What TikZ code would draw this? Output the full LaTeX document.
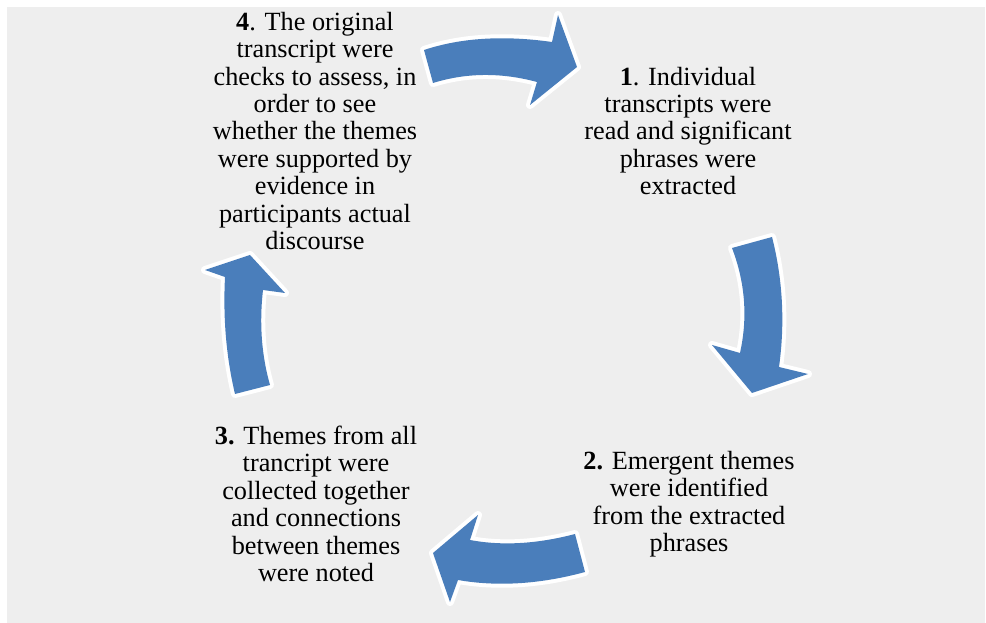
\documentclass[tikz,border=0pt]{standalone}
\usepackage{fontspec}
\setmainfont{Liberation Serif}
\definecolor{cycleblue}{RGB}{74,126,187}
\definecolor{panelgray}{RGB}{238,238,238}

\begin{document}
\begin{tikzpicture}[
    x=0.75pt, y=-0.75pt,
    stage/.style={align=center, inner sep=0pt, font=\fontsize{19.7}{20.6}\selectfont},
    turn/.style={fill=cycleblue, preaction={draw=white, line width=6pt, line join=round}}
]
\useasboundingbox (0,0) rectangle (986,623);
\fill[panelgray] (7,7) rectangle (985,623);

\node[stage] (extract) at (688,131) {\textbf{1}. Individual\\transcripts were\\read and significant\\phrases were\\extracted};
\node[stage] (identify) at (689,504) {\textbf{2.} Emergent themes\\were identified\\from the extracted\\phrases};
\node[stage] (collect) at (316,504) {\textbf{3.} Themes from all\\trancript were\\collected together\\and connections\\between themes\\were noted};
\node[stage] (check) at (315,131) {\textbf{4}. The original\\transcript were\\checks to assess, in\\order to see\\whether the themes\\were supported by\\evidence in\\participants actual\\discourse};

% curved arrows of the cycle
\path[turn] (424,50) .. controls (460,38) and (503,35) .. (552,42)
  -- (558,15) -- (577,67) -- (530,105) -- (537,82)
  .. controls (500,72) and (465,73) .. (433,83) -- cycle;
\path[turn] (772,237) .. controls (783,280) and (785,324) .. (779,367)
  -- (808,374) -- (752,393) -- (712,345) -- (740,353)
  .. controls (748,317) and (745,282) .. (732,248) -- cycle;
\path[turn] (585,572) .. controls (541,584) and (498,587) .. (458,580)
  -- (450,602) -- (433,553) -- (478,515) -- (470,540)
  .. controls (502,546) and (537,544) .. (575,534) -- cycle;
\path[turn] (270,385) .. controls (262,357) and (259,325) .. (263,290)
  -- (285,293) -- (250,255) -- (205,270) -- (225,277)
  .. controls (223,317) and (226,356) .. (235,394) -- cycle;
\end{tikzpicture}
\end{document}
